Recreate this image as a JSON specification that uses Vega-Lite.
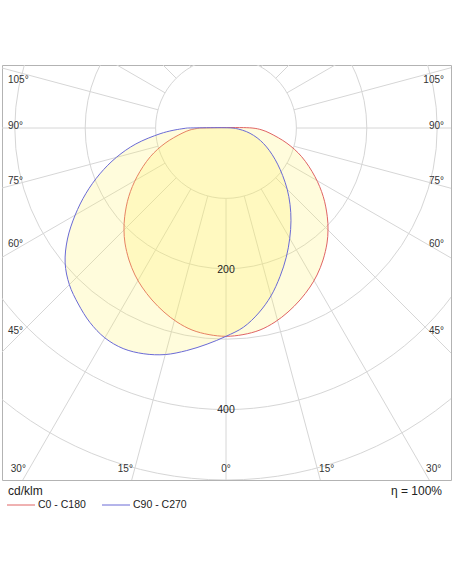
{
  "$schema": "https://vega.github.io/schema/vega-lite/v6.json",
  "width": 449,
  "height": 415,
  "autosize": {"type": "none"},
  "padding": {"left": 2, "top": 65, "right": 1, "bottom": 104},
  "background": "white",
  "config": {"view": {"stroke": "#b3b3b3", "strokeWidth": 1}, "font": "Liberation Sans"},
  "encoding": {
    "x": {"field": "x", "type": "quantitative", "scale": {"domain": [-318.18, 319.6], "nice": false, "zero": false}, "axis": null},
    "y": {"field": "y", "type": "quantitative", "scale": {"domain": [-500, 89.49], "nice": false, "zero": false}, "axis": null}
  },
  "layer": [
    {
      "data": {"values": [
        {"r": 100, "x": 0, "y": 0}, {"r": 200, "x": 0, "y": 0}, {"r": 300, "x": 0, "y": 0},
        {"r": 400, "x": 0, "y": 0}, {"r": 500, "x": 0, "y": 0}
      ]},
      "mark": {"type": "point", "shape": "circle", "filled": false, "stroke": "#d6d6d6", "strokeWidth": 1, "opacity": 1, "clip": true},
      "encoding": {
        "size": {"field": "r", "type": "quantitative", "scale": {"type": "pow", "exponent": 2, "domain": [0, 500], "range": [0, 495616]}, "legend": null}
      }
    },
    {
      "data": {"values": [
        {"x": 0, "y": -100, "x2": 0, "y2": -800},
        {"x": 25.88, "y": -96.59, "x2": 207.0, "y2": -772.7},
        {"x": -25.88, "y": -96.59, "x2": -207.0, "y2": -772.7},
        {"x": 50, "y": -86.6, "x2": 400, "y2": -692.8},
        {"x": -50, "y": -86.6, "x2": -400, "y2": -692.8},
        {"x": 70.71, "y": -70.71, "x2": 565.7, "y2": -565.7},
        {"x": -70.71, "y": -70.71, "x2": -565.7, "y2": -565.7},
        {"x": 86.6, "y": -50, "x2": 692.8, "y2": -400},
        {"x": -86.6, "y": -50, "x2": -692.8, "y2": -400},
        {"x": 96.59, "y": -25.88, "x2": 772.7, "y2": -207.0},
        {"x": -96.59, "y": -25.88, "x2": -772.7, "y2": -207.0},
        {"x": 100, "y": 0, "x2": 800, "y2": 0},
        {"x": -100, "y": 0, "x2": -800, "y2": 0},
        {"x": 96.59, "y": 25.88, "x2": 772.7, "y2": 207.0},
        {"x": -96.59, "y": 25.88, "x2": -772.7, "y2": 207.0},
        {"x": 86.6, "y": 50, "x2": 692.8, "y2": 400},
        {"x": -86.6, "y": 50, "x2": -692.8, "y2": 400},
        {"x": 70.71, "y": 70.71, "x2": 565.7, "y2": 565.7},
        {"x": -70.71, "y": 70.71, "x2": -565.7, "y2": 565.7},
        {"x": 50, "y": 86.6, "x2": 400, "y2": 692.8},
        {"x": -50, "y": 86.6, "x2": -400, "y2": 692.8},
        {"x": 25.88, "y": 96.59, "x2": 207.0, "y2": 772.7},
        {"x": -25.88, "y": 96.59, "x2": -207.0, "y2": 772.7},
        {"x": 0, "y": 100, "x2": 0, "y2": 800}
      ]},
      "mark": {"type": "rule", "stroke": "#d6d6d6", "strokeWidth": 1, "clip": true},
      "encoding": {"x2": {"field": "x2"}, "y2": {"field": "y2"}}
    },
    {
      "data": {"values": [
        {"series": "C0 - C180", "i": 0, "x": -37, "y": 0},
        {"series": "C0 - C180", "i": 1, "x": 37, "y": 0},
        {"series": "C0 - C180", "i": 2, "x": 51.1, "y": -2.8},
        {"series": "C0 - C180", "i": 3, "x": 62.5, "y": -7.5},
        {"series": "C0 - C180", "i": 4, "x": 86.6, "y": -21.7},
        {"series": "C0 - C180", "i": 5, "x": 107.5, "y": -40.8},
        {"series": "C0 - C180", "i": 6, "x": 126.4, "y": -69.2},
        {"series": "C0 - C180", "i": 7, "x": 138.2, "y": -97.6},
        {"series": "C0 - C180", "i": 8, "x": 143.9, "y": -126.0},
        {"series": "C0 - C180", "i": 9, "x": 144.9, "y": -144.9},
        {"series": "C0 - C180", "i": 10, "x": 143.5, "y": -163.4},
        {"series": "C0 - C180", "i": 11, "x": 137.8, "y": -187.5},
        {"series": "C0 - C180", "i": 12, "x": 129.3, "y": -208.8},
        {"series": "C0 - C180", "i": 13, "x": 119.3, "y": -225.9},
        {"series": "C0 - C180", "i": 14, "x": 105.1, "y": -244.3},
        {"series": "C0 - C180", "i": 15, "x": 88.1, "y": -261.4},
        {"series": "C0 - C180", "i": 16, "x": 69.6, "y": -275.6},
        {"series": "C0 - C180", "i": 17, "x": 48.3, "y": -286.9},
        {"series": "C0 - C180", "i": 18, "x": 24.1, "y": -293.5},
        {"series": "C0 - C180", "i": 19, "x": 0, "y": -295.9},
        {"series": "C0 - C180", "i": 20, "x": -24.1, "y": -293.5},
        {"series": "C0 - C180", "i": 21, "x": -48.3, "y": -286.9},
        {"series": "C0 - C180", "i": 22, "x": -69.6, "y": -275.6},
        {"series": "C0 - C180", "i": 23, "x": -88.1, "y": -261.4},
        {"series": "C0 - C180", "i": 24, "x": -105.1, "y": -244.3},
        {"series": "C0 - C180", "i": 25, "x": -119.3, "y": -225.9},
        {"series": "C0 - C180", "i": 26, "x": -129.3, "y": -208.8},
        {"series": "C0 - C180", "i": 27, "x": -137.8, "y": -187.5},
        {"series": "C0 - C180", "i": 28, "x": -143.5, "y": -163.4},
        {"series": "C0 - C180", "i": 29, "x": -144.9, "y": -144.9},
        {"series": "C0 - C180", "i": 30, "x": -143.9, "y": -126.0},
        {"series": "C0 - C180", "i": 31, "x": -138.2, "y": -97.6},
        {"series": "C0 - C180", "i": 32, "x": -126.4, "y": -69.2},
        {"series": "C0 - C180", "i": 33, "x": -107.5, "y": -40.8},
        {"series": "C0 - C180", "i": 34, "x": -86.6, "y": -21.7},
        {"series": "C0 - C180", "i": 35, "x": -62.5, "y": -7.5},
        {"series": "C0 - C180", "i": 36, "x": -51.1, "y": -2.8},
        {"series": "C0 - C180", "i": 37, "x": -37, "y": 0},
        {"series": "C90 - C270", "i": 0, "x": -55.0, "y": 0},
        {"series": "C90 - C270", "i": 1, "x": 8.5, "y": 0},
        {"series": "C90 - C270", "i": 2, "x": 17.5, "y": -1.5},
        {"series": "C90 - C270", "i": 3, "x": 28.9, "y": -5.1},
        {"series": "C90 - C270", "i": 4, "x": 39.2, "y": -10.5},
        {"series": "C90 - C270", "i": 5, "x": 48.9, "y": -17.8},
        {"series": "C90 - C270", "i": 6, "x": 57.6, "y": -26.9},
        {"series": "C90 - C270", "i": 7, "x": 65.6, "y": -37.85},
        {"series": "C90 - C270", "i": 8, "x": 73.3, "y": -51.3},
        {"series": "C90 - C270", "i": 9, "x": 80.5, "y": -67.6},
        {"series": "C90 - C270", "i": 10, "x": 86.9, "y": -86.9},
        {"series": "C90 - C270", "i": 11, "x": 90.95, "y": -108.4},
        {"series": "C90 - C270", "i": 12, "x": 92.3, "y": -131.8},
        {"series": "C90 - C270", "i": 13, "x": 90.55, "y": -156.8},
        {"series": "C90 - C270", "i": 14, "x": 85.6, "y": -183.6},
        {"series": "C90 - C270", "i": 15, "x": 76.75, "y": -210.9},
        {"series": "C90 - C270", "i": 16, "x": 63.9, "y": -238.5},
        {"series": "C90 - C270", "i": 17, "x": 46.35, "y": -262.8},
        {"series": "C90 - C270", "i": 18, "x": 24.76, "y": -283.0},
        {"series": "C90 - C270", "i": 19, "x": 0, "y": -295.9},
        {"series": "C90 - C270", "i": 20, "x": -26.86, "y": -307.0},
        {"series": "C90 - C270", "i": 21, "x": -55.74, "y": -316.1},
        {"series": "C90 - C270", "i": 22, "x": -86.21, "y": -321.8},
        {"series": "C90 - C270", "i": 23, "x": -116.73, "y": -320.7},
        {"series": "C90 - C270", "i": 24, "x": -146.1, "y": -313.3},
        {"series": "C90 - C270", "i": 25, "x": -172.1, "y": -298.1},
        {"series": "C90 - C270", "i": 26, "x": -193.35, "y": -276.1},
        {"series": "C90 - C270", "i": 27, "x": -209.8, "y": -250.0},
        {"series": "C90 - C270", "i": 28, "x": -222.5, "y": -222.5},
        {"series": "C90 - C270", "i": 29, "x": -228.5, "y": -191.7},
        {"series": "C90 - C270", "i": 30, "x": -225.2, "y": -157.7},
        {"series": "C90 - C270", "i": 31, "x": -214.3, "y": -123.75},
        {"series": "C90 - C270", "i": 32, "x": -198.9, "y": -92.8},
        {"series": "C90 - C270", "i": 33, "x": -179.2, "y": -65.2},
        {"series": "C90 - C270", "i": 34, "x": -155.7, "y": -41.7},
        {"series": "C90 - C270", "i": 35, "x": -128.0, "y": -22.6},
        {"series": "C90 - C270", "i": 36, "x": -93.7, "y": -8.2},
        {"series": "C90 - C270", "i": 37, "x": -75.2, "y": -3.3},
        {"series": "C90 - C270", "i": 38, "x": -55.0, "y": 0}
      ]},
      "mark": {"type": "line", "fill": "#fff060", "fillOpacity": 0.22, "strokeWidth": 1, "interpolate": "catmull-rom", "clip": true},
      "encoding": {
        "order": {"field": "i", "type": "quantitative"},
        "color": {
          "field": "series", "type": "nominal",
          "scale": {"domain": ["C0 - C180", "C90 - C270"], "range": ["#e06464", "#6a6ad6"]},
          "legend": {
            "orient": "none", "direction": "horizontal", "legendX": 4.5, "legendY": 425.5,
            "title": null, "symbolType": "stroke", "symbolSize": 784, "symbolStrokeWidth": 1,
            "labelFontSize": 10.5, "labelColor": "#222", "labelOffset": 2.5, "columnPadding": 13, "padding": 0
          }
        }
      }
    },
    {
      "data": {"values": [{"band": "page edge"}]},
      "mark": {"type": "rect", "color": "#efefef", "clip": false},
      "encoding": {
        "x": {"datum": -330}, "x2": {"datum": 330},
        "y": {"datum": -552.6}, "y2": {"datum": -556.8}
      }
    },
    {
      "data": {"values": [
        {"t": "105°", "x": -309.7, "y": 64.3},
        {"t": "90°", "x": -309.7, "y": -1.4},
        {"t": "75°", "x": -309.7, "y": -80.0},
        {"t": "60°", "x": -309.7, "y": -169.0},
        {"t": "45°", "x": -309.7, "y": -292.6}
      ]},
      "mark": {"type": "text", "align": "left", "baseline": "alphabetic", "fontSize": 10, "color": "#333"},
      "encoding": {"text": {"field": "t"}}
    },
    {
      "data": {"values": [
        {"t": "105°", "x": 309.7, "y": 64.3},
        {"t": "90°", "x": 309.7, "y": -1.4},
        {"t": "75°", "x": 309.7, "y": -80.0},
        {"t": "60°", "x": 309.7, "y": -169.0},
        {"t": "45°", "x": 309.7, "y": -292.6}
      ]},
      "mark": {"type": "text", "align": "right", "baseline": "alphabetic", "fontSize": 10, "color": "#333"},
      "encoding": {"text": {"field": "t"}}
    },
    {
      "data": {"values": [
        {"t": "30°", "x": -295, "y": -488.6},
        {"t": "15°", "x": -143, "y": -488.6},
        {"t": "0°", "x": 0, "y": -488.6},
        {"t": "15°", "x": 143, "y": -488.6},
        {"t": "30°", "x": 295, "y": -488.6}
      ]},
      "mark": {"type": "text", "align": "center", "baseline": "alphabetic", "fontSize": 10, "color": "#333"},
      "encoding": {"text": {"field": "t"}}
    },
    {
      "data": {"values": [
        {"t": "200", "x": 0, "y": -205.5},
        {"t": "400", "x": 0, "y": -405.3}
      ]},
      "mark": {"type": "text", "align": "center", "baseline": "alphabetic", "fontSize": 10.5, "color": "#222"},
      "encoding": {"text": {"field": "t"}}
    },
    {
      "data": {"values": [
        {"t": "cd/klm", "x": -309.7, "y": -521.3}
      ]},
      "mark": {"type": "text", "align": "left", "baseline": "alphabetic", "fontSize": 12, "color": "#222"},
      "encoding": {"text": {"field": "t"}}
    },
    {
      "data": {"values": [
        {"t": "η = 100%", "x": 306.8, "y": -521.3}
      ]},
      "mark": {"type": "text", "align": "right", "baseline": "alphabetic", "fontSize": 12, "color": "#222"},
      "encoding": {"text": {"field": "t"}}
    }
  ]
}
